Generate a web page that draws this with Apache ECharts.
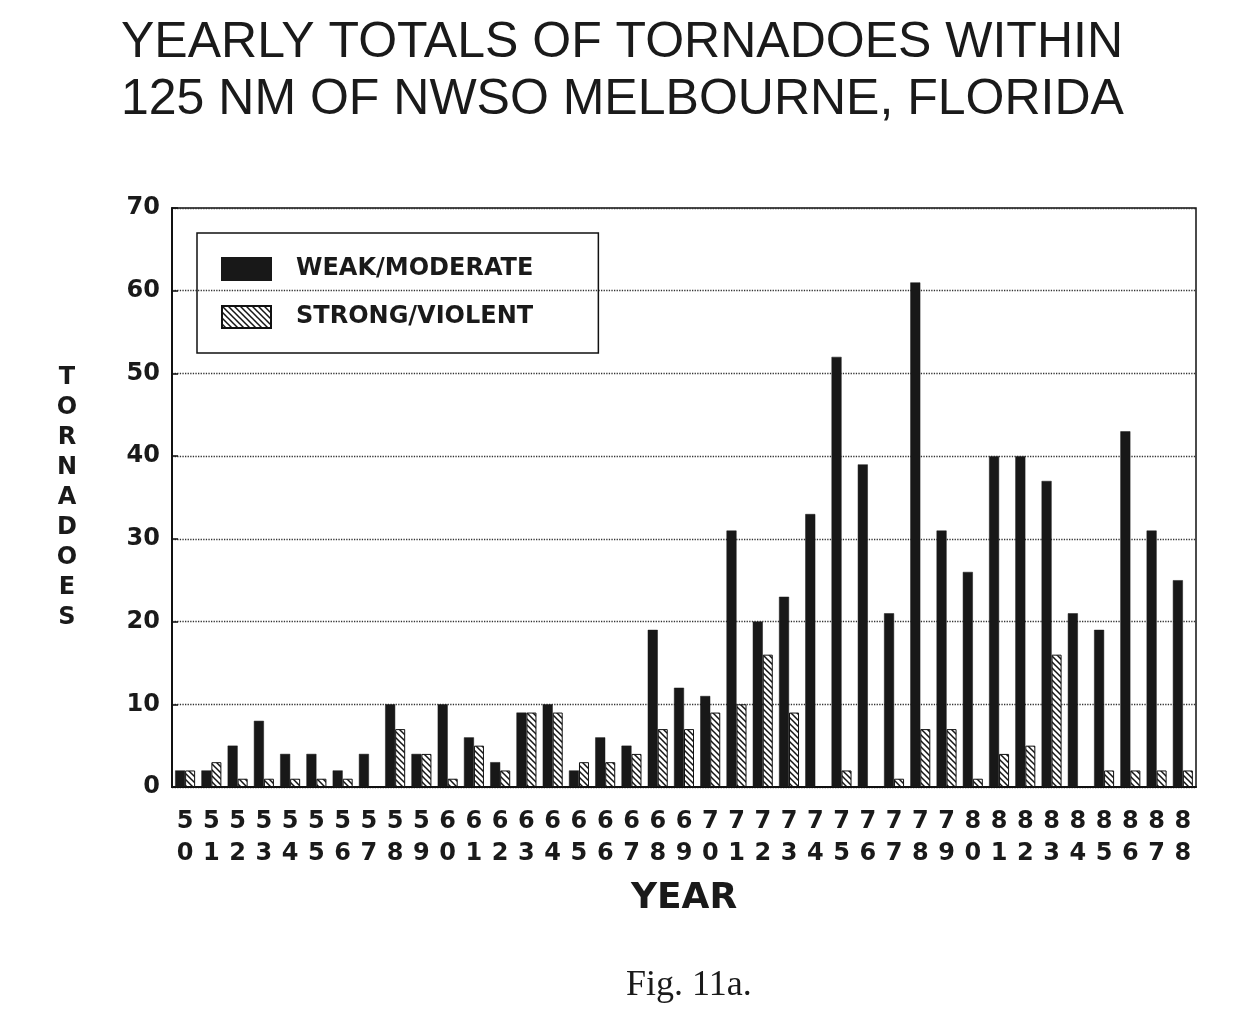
<!DOCTYPE html>
<html>
<head>
<meta charset="utf-8">
<script src="https://cdn.jsdelivr.net/npm/echarts@6/dist/echarts.min.js"></script>
<style>
  html, body { margin: 0; padding: 0; background: #ffffff; }
  #chart { width: 1260px; height: 1026px; }
</style>
</head>
<body>
<div id="chart"></div>
<script>
// ---- data ----
const years = ['50','51','52','53','54','55','56','57','58','59',
               '60','61','62','63','64','65','66','67','68','69',
               '70','71','72','73','74','75','76','77','78','79',
               '80','81','82','83','84','85','86','87','88'];
const weakModerate = [2, 2, 5, 8, 4, 4, 2, 4, 10, 4,
                      10, 6, 3, 9, 10, 2, 6, 5, 19, 12,
                      11, 31, 20, 23, 33, 52, 39, 21, 61, 31,
                      26, 40, 40, 37, 21, 19, 43, 31, 25];
const strongViolent = [2, 3, 1, 1, 1, 1, 1, 0, 7, 4,
                       1, 5, 2, 9, 9, 3, 3, 4, 7, 7,
                       9, 10, 16, 9, 0, 2, 0, 1, 7, 7,
                       1, 4, 5, 16, 0, 2, 2, 2, 2];
const yTicks = [0, 10, 20, 30, 40, 50, 60, 70];
const titleText = 'YEARLY TOTALS OF TORNADOES WITHIN\n125 NM OF NWSO MELBOURNE, FLORIDA';
const captionText = 'Fig. 11a.';
const seriesNames = ['WEAK/MODERATE', 'STRONG/VIOLENT'];

// ---- hatch pattern ----
const hatch = document.createElement('canvas');
hatch.width = 6; hatch.height = 6;
(function () {
  const ctx = hatch.getContext('2d');
  ctx.fillStyle = '#ffffff';
  ctx.fillRect(0, 0, 6, 6);
  ctx.strokeStyle = '#151515';
  ctx.lineWidth = 1.5;
  ctx.beginPath();
  ctx.moveTo(-1, -1); ctx.lineTo(7, 7);
  ctx.moveTo(-1, 5); ctx.lineTo(1, 7);
  ctx.moveTo(5, -1); ctx.lineTo(7, 1);
  ctx.stroke();
})();

const ink = '#1a1a1a';
const sansBold = { fontFamily: 'DejaVu Sans', fontWeight: 'bold', color: ink };

const chart = echarts.init(document.getElementById('chart'), null, { renderer: 'canvas' });
chart.setOption({
  backgroundColor: '#ffffff',
  animation: false,
  title: [{
    text: titleText,
    left: 121,
    top: 15,
    padding: 0,
    textStyle: { fontFamily: 'Liberation Sans', fontWeight: 'normal', fontSize: 50, lineHeight: 57, color: ink }
  }, {
    text: captionText,
    left: 626,
    top: 968,
    padding: 0,
    textStyle: { fontFamily: 'Liberation Serif', fontWeight: 'normal', fontSize: 36, color: ink }
  }],
  legend: {
    orient: 'vertical',
    left: 197,
    top: 233,
    padding: [24, 65, 24, 24],
    itemGap: 24,
    itemWidth: 49,
    itemHeight: 22,
    icon: 'rect',
    borderColor: '#111',
    borderWidth: 1.5,
    data: seriesNames,
    textStyle: Object.assign({ fontSize: 24, padding: [0, 0, 0, 20] }, sansBold)
  },
  grid: {
    left: 172, right: 64, top: 208, bottom: 239,
    show: true, borderColor: '#111', borderWidth: 1.5, backgroundColor: 'transparent'
  },
  xAxis: {
    type: 'category',
    data: years,
    name: 'YEAR',
    nameLocation: 'middle',
    nameGap: 94,
    nameTextStyle: Object.assign({ fontSize: 36 }, sansBold),
    axisLine: { lineStyle: { color: '#111', width: 2 } },
    axisTick: { show: false },
    axisLabel: Object.assign({
      interval: 0, fontSize: 24, lineHeight: 32, margin: 19,
      formatter: function (v) { return v.charAt(0) + '\n' + v.charAt(1); }
    }, sansBold)
  },
  yAxis: {
    type: 'value',
    min: yTicks[0],
    max: yTicks[yTicks.length - 1],
    interval: 10,
    name: 'T\nO\nR\nN\nA\nD\nO\nE\nS',
    nameLocation: 'middle',
    nameRotate: 0,
    nameGap: 105,
    nameTextStyle: Object.assign({ fontSize: 24, lineHeight: 30, align: 'center', verticalAlign: 'middle', padding: [19, 0, 0, 0] }, sansBold),
    axisLine: { show: true, lineStyle: { color: '#111', width: 2 } },
    axisTick: { show: true, inside: true, length: 6, lineStyle: { color: '#111', width: 1.5 } },
    axisLabel: Object.assign({ fontSize: 24, margin: 12 }, sansBold),
    splitLine: { show: true, lineStyle: { type: 'dotted', color: '#333', width: 1.3 } }
  },
  series: [{
    name: seriesNames[0],
    type: 'bar',
    data: weakModerate,
    barWidth: 10,
    barGap: '0%',
    itemStyle: { color: '#181818', borderColor: '#181818', borderWidth: 0.5 }
  }, {
    name: seriesNames[1],
    type: 'bar',
    data: strongViolent,
    barWidth: 10,
    barGap: '0%',
    itemStyle: { color: { image: hatch, repeat: 'repeat' }, borderColor: '#111', borderWidth: 1 }
  }]
});
</script>
</body>
</html>
